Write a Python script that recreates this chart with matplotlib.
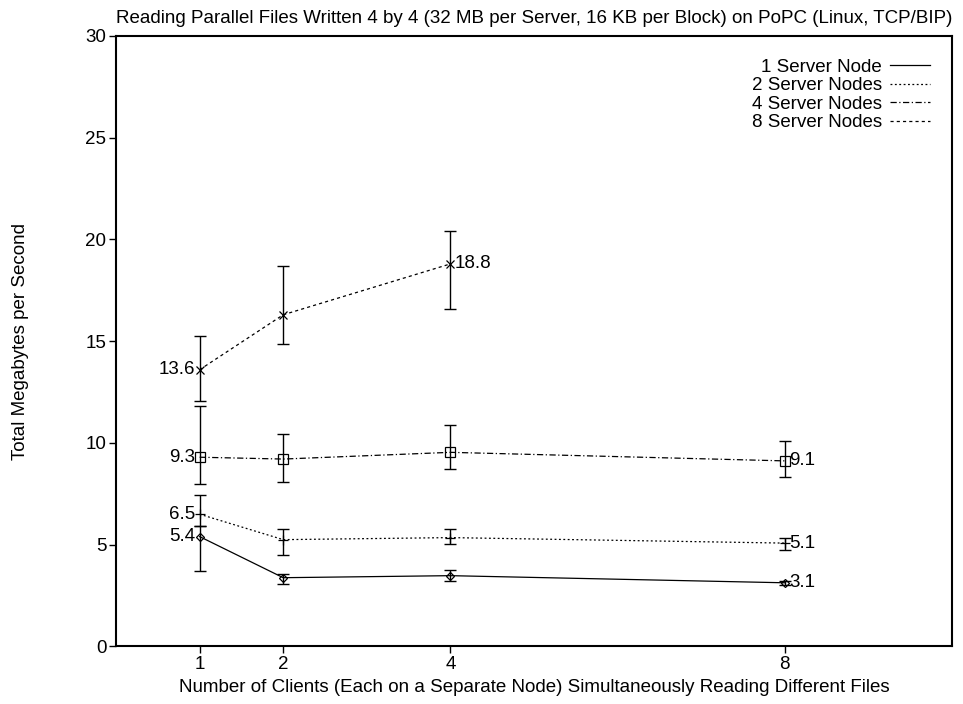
import matplotlib
matplotlib.use("Agg")
import matplotlib.pyplot as plt

plt.rcParams["font.family"] = ["Liberation Sans", "DejaVu Sans"]

# data
clients = [1, 2, 4, 8]

one_y = [5.4, 3.38, 3.48, 3.13]
one_lo = [3.7, 3.05, 3.21, 3.03]
one_hi = [5.9, 3.54, 3.74, 3.23]

two_y = [6.5, 5.25, 5.35, 5.08]
two_lo = [5.9, 4.48, 5.02, 4.72]
two_hi = [7.43, 5.79, 5.79, 5.35]

four_y = [9.3, 9.21, 9.54, 9.12]
four_lo = [7.98, 8.08, 8.74, 8.33]
four_hi = [11.8, 10.46, 10.9, 10.1]

eight_x = [1, 2, 4]
eight_y = [13.6, 16.3, 18.8]
eight_lo = [12.05, 14.85, 16.58]
eight_hi = [15.25, 18.7, 20.43]

labels = ["1 Server Node", "2 Server Nodes", "4 Server Nodes", "8 Server Nodes"]
yticks = [0, 5, 10, 15, 20, 25, 30]

FS = 13.5

series = [
    (clients, one_y, one_lo, one_hi, "D", 4, "-"),
    (clients, two_y, two_lo, two_hi, "+", 7, (0, (1.5, 2))),
    (clients, four_y, four_lo, four_hi, "s", 6.5, (0, (5, 2, 1, 2))),
    (eight_x, eight_y, eight_lo, eight_hi, "x", 6, (0, (2.5, 2.5))),
]

fig = plt.figure(figsize=(9.63, 7.04), dpi=100)
ax = fig.add_axes([0.1205, 0.0817, 0.8681, 0.8672])

for (xs, ys, lo, hi, mk, ms, ls), lab in zip(series, labels):
    err = [[y - l for y, l in zip(ys, lo)], [h - y for y, h in zip(ys, hi)]]
    ax.errorbar(xs, ys, yerr=err, fmt="none", ecolor="black", elinewidth=1,
                capsize=4.5, capthick=1)
    ax.plot(xs, ys, color="black", lw=0.9, ls=ls, marker=mk, ms=ms,
            mfc="none", mec="black", mew=0.9, label=lab)
    ax.annotate(f"{ys[0]:.1f}", (xs[0], ys[0]), xytext=(-3, 0),
                textcoords="offset points", ha="right", va="center", fontsize=FS)
    ax.annotate(f"{ys[-1]:.1f}", (xs[-1], ys[-1]), xytext=(3, 0),
                textcoords="offset points", ha="left", va="center", fontsize=FS)

ax.set_xlim(0, 10)
ax.set_ylim(0, 30)
ax.set_xticks(clients)
ax.set_yticks(yticks)
ax.tick_params(direction="out", length=5, width=1, labelsize=FS, pad=2)
for side in ["top", "right", "left", "bottom"]:
    ax.spines[side].set_linewidth(1.5)

ax.set_title("Reading Parallel Files Written 4 by 4 (32 MB per Server, 16 KB per Block) "
             "on PoPC (Linux, TCP/BIP)", fontsize=FS, pad=9)
ax.set_xlabel("Number of Clients (Each on a Separate Node) Simultaneously Reading "
              "Different Files", fontsize=FS, labelpad=4)
fig.text(0.021, 0.5156, "Total Megabytes per Second", rotation=90,
         ha="center", va="center", fontsize=FS)

leg = ax.legend(loc="upper right", markerfirst=False, frameon=False, fontsize=FS,
                handlelength=2.1, handletextpad=0.45, labelspacing=0.08,
                borderaxespad=0.8)
for h in leg.legend_handles:
    h.set_marker("")

fig.savefig("out.png", dpi=100)
